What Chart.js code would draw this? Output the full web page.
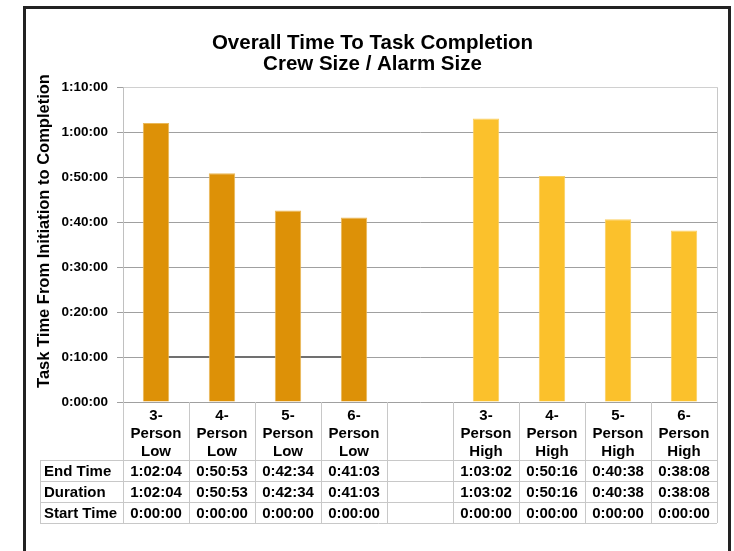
<!DOCTYPE html>
<html>
<head>
<meta charset="utf-8">
<script src="https://cdn.jsdelivr.net/npm/chart.js@4/dist/chart.umd.min.js"></script>
<style>
  html, body { margin: 0; padding: 0; background: #fff; }
  #wrap { position: relative; width: 734px; height: 551px; }
</style>
</head>
<body>
<div id="wrap"><canvas id="myChart"></canvas></div>
<script>
// categories (blank column between the two alarm sizes)
const categories = [
    ['3-', 'Person', 'Low'], ['4-', 'Person', 'Low'], ['5-', 'Person', 'Low'], ['6-', 'Person', 'Low'],
    '',
    ['3-', 'Person', 'High'], ['4-', 'Person', 'High'], ['5-', 'Person', 'High'], ['6-', 'Person', 'High']
];
const endTimes   = ['1:02:04', '0:50:53', '0:42:34', '0:41:03', '', '1:03:02', '0:50:16', '0:40:38', '0:38:08'];
const durations  = ['1:02:04', '0:50:53', '0:42:34', '0:41:03', '', '1:03:02', '0:50:16', '0:40:38', '0:38:08'];
const startTimes = ['0:00:00', '0:00:00', '0:00:00', '0:00:00', '', '0:00:00', '0:00:00', '0:00:00', '0:00:00'];
const tableRows = ['End Time', 'Duration', 'Start Time'];
// grey marker line across the low alarm group, in minutes
const lowLine = [10, 10, 10, 10, null, null, null, null, null];
const yTicks = [0, 10, 20, 30, 40, 50, 60, 70];
const yTitle = 'Task Time From Initiation to Completion';

function toMinutes(s) {
    if (!s) return null;
    const p = s.split(':').map(Number);
    return p[0] * 60 + p[1] + p[2] / 60;
}
function fmt(m) {
    const h = Math.floor(m / 60);
    const mm = Math.round(m % 60);
    return h + ':' + String(mm).padStart(2, '0') + ':00';
}

const durMin = durations.map(toMinutes);
const lowValues = durMin.map((v, i) => i < 4 ? v : null);
const highValues = durMin.map((v, i) => i > 4 ? v : null);

const FONT = '"Liberation Sans", Arial, sans-serif';

const tablePlugin = {
    id: 'tablePlugin',
    beforeDraw(chart) {
        const c = chart.ctx;
        c.save();
        c.fillStyle = '#fff';
        c.fillRect(0, 0, chart.width, chart.height);
        c.strokeStyle = '#222';
        c.lineWidth = 3;
        c.strokeRect(24.5, 7.5, 705, 560);
        c.restore();
    },
    afterDraw(chart) {
        const c = chart.ctx;
        const x = chart.scales.x;
        const area = chart.chartArea;
        const half = (x.getPixelForValue(1) - x.getPixelForValue(0)) / 2;
        const rowTop = 460, rowH = 21, tableLeft = 40;
        const tableBottom = rowTop + rowH * tableRows.length;
        c.save();
        c.strokeStyle = '#c8c8c8';
        c.lineWidth = 1;
        c.beginPath();
        for (let i = 0; i <= categories.length; i++) {
            const px = Math.round(x.getPixelForValue(0) - half + i * half * 2) + 0.5;
            c.moveTo(px, area.bottom);
            c.lineTo(px, tableBottom);
        }
        c.moveTo(tableLeft + 0.5, rowTop);
        c.lineTo(tableLeft + 0.5, tableBottom);
        for (let r = 0; r <= tableRows.length; r++) {
            const py = rowTop + r * rowH + 0.5;
            c.moveTo(tableLeft, py);
            c.lineTo(area.right, py);
        }
        c.moveTo(area.right + 0.5, area.top);
        c.lineTo(area.right + 0.5, area.bottom);
        c.stroke();

        c.fillStyle = '#000';
        c.font = 'bold 15px ' + FONT;
        c.textBaseline = 'middle';
        const rows = [endTimes, durations, startTimes];
        tableRows.forEach((label, r) => {
            const cy = rowTop + r * rowH + rowH / 2 + 1.5;
            c.textAlign = 'left';
            c.fillText(label, tableLeft + 4, cy);
            c.textAlign = 'center';
            rows[r].forEach((txt, i) => {
                if (txt) c.fillText(txt, x.getPixelForValue(i), cy);
            });
        });

        // y axis title, sits a bit above the plot centre like the original
        c.translate(44, 231);
        c.rotate(-Math.PI / 2);
        c.font = 'bold 16.5px ' + FONT;
        c.textAlign = 'center';
        c.textBaseline = 'middle';
        c.fillText(yTitle, 0, 0);
        c.restore();
    }
};

const ctx = document.getElementById('myChart');
new Chart(ctx, {
    type: 'bar',
    data: {
        labels: categories,
        datasets: [
            {
                label: 'Low',
                data: lowValues,
                backgroundColor: '#dd9107',
                borderColor: '#eab858',
                borderWidth: { left: 1, right: 1, top: 1, bottom: 0 },
                barPercentage: 0.4,
                categoryPercentage: 1,
                grouped: false,
                order: 1
            },
            {
                label: 'High',
                data: highValues,
                backgroundColor: '#fbc12c',
                borderColor: '#fcd060',
                borderWidth: { left: 1, right: 1, top: 1, bottom: 0 },
                barPercentage: 0.4,
                categoryPercentage: 1,
                grouped: false,
                order: 1
            },
            {
                type: 'line',
                label: 'Marker',
                data: lowLine,
                borderColor: '#707070',
                borderWidth: 2,
                pointRadius: 0,
                spanGaps: false,
                order: 2
            }
        ]
    },
    options: {
        responsive: true,
        maintainAspectRatio: false,
        animation: false,
        layout: { padding: { left: 28, right: 17, top: 20, bottom: 20 } },
        plugins: {
            legend: { display: false },
            tooltip: { enabled: false },
            title: {
                display: true,
                text: ['Overall Time To Task Completion', 'Crew Size / Alarm Size'],
                color: '#000',
                font: { family: FONT, size: 20.5, weight: 'bold', lineHeight: 1.03 },
                padding: { top: 13, bottom: 12 }
            }
        },
        scales: {
            x: {
                grid: { display: false, drawTicks: false, tickLength: 0 },
                border: { display: false },
                ticks: {
                    color: '#000',
                    font: { family: FONT, size: 15, weight: 'bold', lineHeight: 1.17 },
                    padding: 5.5,
                    autoSkip: false,
                    maxRotation: 0
                },
                afterFit(scale) { scale.height = 129; }
            },
            y: {
                min: 0,
                max: 70,
                afterBuildTicks(scale) { scale.ticks = yTicks.map(v => ({ value: v })); },
                grid: {
                    color: ctx => ctx.tick && ctx.tick.value === 70 ? '#d0d0d0' : '#a0a0a0',
                    tickLength: 6,
                    tickColor: '#a0a0a0'
                },
                border: { display: true, color: '#c0c0c0' },
                ticks: {
                    color: '#000',
                    font: { family: FONT, size: 13.5, weight: 'bold' },
                    padding: 9,
                    callback: v => fmt(v)
                },
                title: { display: false },
                afterFit(scale) { scale.width = 95; }
            }
        }
    },
    plugins: [tablePlugin]
});
</script>
</body>
</html>
